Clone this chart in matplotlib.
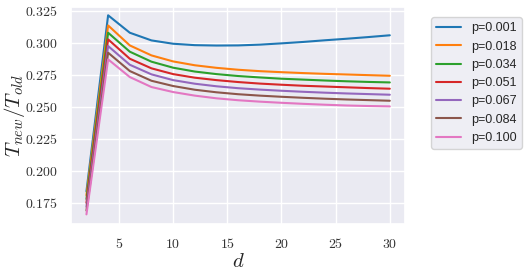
import matplotlib
matplotlib.use("Agg")
import matplotlib.pyplot as plt
import seaborn as sns
from matplotlib.ticker import FuncFormatter

sns.set_theme(style="darkgrid", palette="tab10")
plt.rcParams["mathtext.fontset"] = "cm"

d = [2, 4, 6, 8, 10, 12, 14, 16, 18, 20, 22, 24, 26, 28, 30]
p_labels = ["p=0.001", "p=0.018", "p=0.034", "p=0.051", "p=0.067", "p=0.084", "p=0.100"]

t_p001 = [0.1840, 0.3214, 0.3078, 0.3018, 0.2992, 0.2981, 0.2978, 0.2979, 0.2985, 0.2995, 0.3006, 0.3019, 0.3031, 0.3044, 0.3058]
t_p018 = [0.1810, 0.3135, 0.2979, 0.2901, 0.2854, 0.2824, 0.2804, 0.2789, 0.2778, 0.2770, 0.2763, 0.2757, 0.2752, 0.2747, 0.2742]
t_p034 = [0.1780, 0.3078, 0.2930, 0.2852, 0.2805, 0.2775, 0.2755, 0.2740, 0.2729, 0.2719, 0.2712, 0.2705, 0.2699, 0.2694, 0.2690]
t_p051 = [0.1750, 0.3026, 0.2875, 0.2800, 0.2755, 0.2727, 0.2708, 0.2693, 0.2681, 0.2672, 0.2664, 0.2658, 0.2652, 0.2646, 0.2641]
t_p067 = [0.1720, 0.2974, 0.2828, 0.2753, 0.2708, 0.2680, 0.2660, 0.2645, 0.2634, 0.2625, 0.2617, 0.2610, 0.2604, 0.2599, 0.2594]
t_p084 = [0.1690, 0.2922, 0.2779, 0.2703, 0.2662, 0.2633, 0.2613, 0.2598, 0.2587, 0.2578, 0.2570, 0.2563, 0.2557, 0.2552, 0.2547]
t_p100 = [0.1660, 0.2870, 0.2732, 0.2654, 0.2615, 0.2587, 0.2566, 0.2551, 0.2540, 0.2531, 0.2523, 0.2516, 0.2510, 0.2506, 0.2503]
series = [t_p001, t_p018, t_p034, t_p051, t_p067, t_p084, t_p100]

fig = plt.figure(figsize=(5.28, 2.74), dpi=100)
ax = fig.add_axes([0.135, 0.183, 0.632, 0.792])

for ys, lab in zip(series, p_labels):
    ax.plot(d, ys, label=lab, lw=1.5)

ax.set_xlim(0.6, 31.4)
ax.set_ylim(0.1586, 0.328)
ax.set_xticks([5, 10, 15, 20, 25, 30])
ax.set_yticks([0.175, 0.200, 0.225, 0.250, 0.275, 0.300, 0.325])
ax.xaxis.set_major_formatter(FuncFormatter(lambda v, pos: f"${v:.0f}$"))
ax.yaxis.set_major_formatter(FuncFormatter(lambda v, pos: f"${v:.3f}$"))
ax.tick_params(labelsize=10, colors="#333333")

ax.set_xlabel(r"$d$", fontsize=15, labelpad=0)
ax.set_ylabel(r"$T_{new}/T_{old}$", fontsize=15, labelpad=-1.5)

ax.legend(loc="upper left", bbox_to_anchor=(1.06, 0.98),
          prop={"family": "Liberation Sans", "size": 9})

fig.savefig("out.png", dpi=100)
